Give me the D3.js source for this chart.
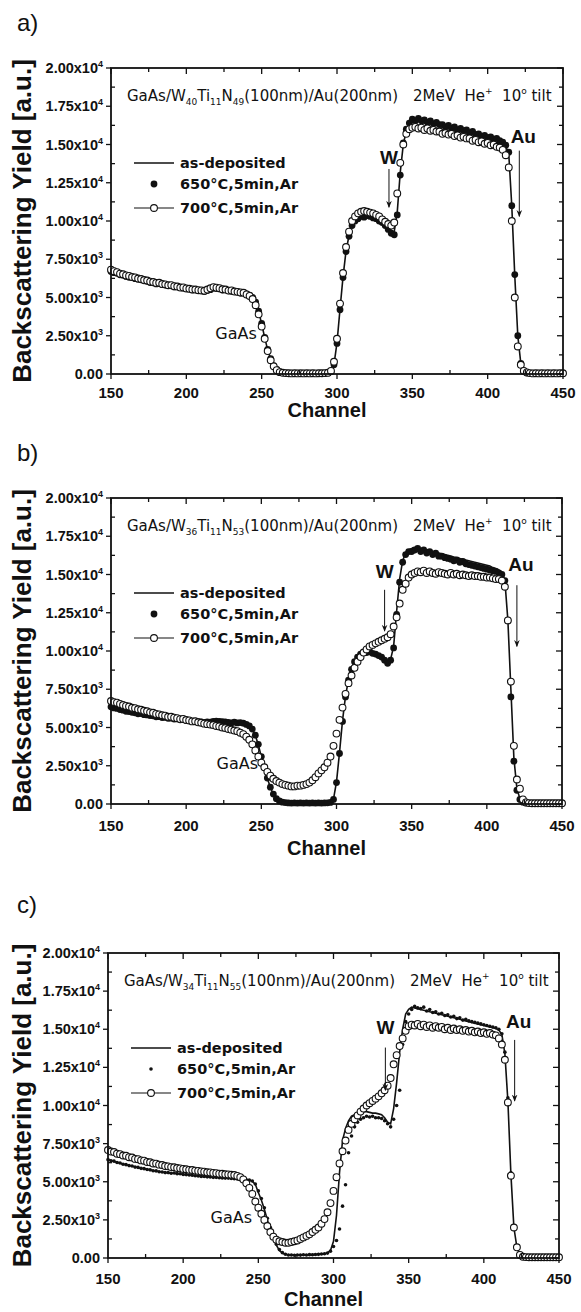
<!DOCTYPE html>
<html><head><meta charset="utf-8">
<script src="https://cdn.jsdelivr.net/npm/d3@7/dist/d3.min.js"></script>
<style>body{margin:0;background:#fff;} svg{display:block} .pre{white-space:pre}</style>
</head><body>
<script>
// ---------- DATA ----------
const channels = d3.range(150, 451, 2); // x grid: channel 150..450 every 2
const xTicks = [150, 200, 250, 300, 350, 400, 450];
const xMinor = [175, 225, 275, 325, 375, 425];
const yTicks = [0, 2500, 5000, 7500, 10000, 12500, 15000, 17500, 20000];
const yMinor = [1250, 3750, 6250, 8750, 11250, 13750, 16250, 18750];
const yTickMant = ["0.00", "2.50x10", "5.00x10", "7.50x10", "1.00x10", "1.25x10", "1.50x10", "1.75x10", "2.00x10"];
const yTickExp = ["", "3", "3", "3", "4", "4", "4", "4", "4"];
const seriesNames = ["as-deposited", "650°C,5min,Ar", "700°C,5min,Ar"];
const panelLabels = ["a)", "b)", "c)"];
const compW = ["40", "36", "34"];
const compTi = ["11", "11", "11"];
const compN = ["49", "53", "55"];

// panel a
const aAsDep = [
6650,6600,6550,6480,6430,6380,6300,6280,6220,6180,
6130,6080,6030,5990,5940,5900,5880,5830,5800,5780,
5740,5700,5680,5640,5600,5580,5540,5500,5480,5450,
5430,5400,5430,5480,5560,5580,5540,5500,5480,5440,
5400,5380,5340,5300,5280,5230,5130,4980,4680,4080,
3280,2380,1580,980,540,290,150,100,80,60,
50,50,50,50,50,50,50,50,50,50,
50,60,70,150,620,2050,4250,6350,8050,9050,
9700,10000,10200,10300,10300,10300,10250,10200,10100,10000,
9900,9700,9500,9250,9300,10600,13200,15000,15900,16300,
16450,16500,16500,16450,16400,16400,16350,16300,16250,16200,
16150,16100,16050,16000,15950,15900,15850,15800,15750,15700,
15650,15600,15550,15500,15450,15400,15350,15300,15250,15200,
15050,14850,14400,11000,6400,2500,700,200,80,60,
50,50,50,50,50,50,50,50,50,50,
50];
const a650 = [
6700,6620,6580,6480,6460,6380,6320,6300,6230,6200,
6160,6090,6060,5980,5960,5890,5910,5840,5810,5790,
5760,5690,5710,5640,5610,5590,5560,5490,5510,5440,
5460,5390,5460,5510,5620,5590,5560,5490,5510,5440,
5410,5390,5360,5290,5310,5240,5150,5000,4700,4100,
3300,2400,1600,1000,550,300,150,100,80,60,
50,60,50,40,50,60,50,50,40,50,
50,60,70,150,600,2000,4200,6300,8000,9000,
9700,10000,10150,10300,10250,10350,10300,10200,10150,10000,
9900,9700,9450,9200,9100,10400,13000,15100,16000,16400,
16650,16550,16700,16550,16600,16450,16550,16350,16450,16300,
16300,16150,16250,16050,16150,15950,16050,15900,15950,15750,
15850,15650,15700,15550,15600,15450,15500,15350,15400,15250,
15150,14950,14500,11000,6500,2500,700,200,80,60,
50,50,50,50,50,50,50,50,50,50,
50];
const a700 = [
6820,6720,6660,6560,6520,6440,6410,6340,6310,6240,
6210,6140,6110,6040,6010,5950,5960,5880,5860,5800,
5810,5740,5720,5650,5660,5590,5570,5530,5520,5480,
5460,5440,5520,5600,5680,5640,5610,5540,5520,5450,
5460,5390,5370,5330,5310,5200,5100,4900,4500,3900,
3100,2300,1500,900,500,250,120,80,60,50,
40,50,40,50,40,50,40,50,40,50,
50,60,80,200,800,2300,4600,6600,8300,9300,
10000,10300,10500,10600,10650,10600,10550,10500,10400,10300,
10100,9950,9800,9700,9900,11800,13800,15000,15700,16000,
16100,16150,16050,16100,15950,16050,15900,15950,15850,15850,
15700,15750,15650,15700,15550,15600,15450,15500,15400,15400,
15250,15300,15150,15200,15050,15100,14950,15000,14850,14800,
14650,14300,13500,10000,5000,1800,600,200,100,60,
40,50,40,50,40,50,40,50,40,50,
50];

// panel b
const bAsDep = [
6300,6250,6200,6150,6100,6050,6000,5980,5940,5900,
5880,5840,5800,5770,5740,5700,5680,5650,5630,5600,
5580,5550,5530,5500,5480,5450,5430,5400,5390,5370,
5350,5340,5350,5360,5380,5400,5390,5370,5350,5330,
5310,5320,5300,5290,5260,5190,5080,4880,4480,3880,
3080,2380,1680,1080,640,340,190,120,90,70,
60,60,60,60,60,60,60,60,60,60,
60,70,80,110,320,1450,3350,5450,7050,8150,
8850,9350,9650,9850,9950,9950,9950,9850,9800,9700,
9600,9400,9250,9450,10300,12600,14700,15900,16400,16600,
16700,16750,16700,16650,16650,16600,16550,16500,16450,16400,
16350,16300,16250,16200,16150,16100,16050,16000,15950,15900,
15850,15800,15750,15700,15650,15600,15550,15450,15400,15300,
15150,14600,12000,7500,3000,1000,350,130,80,60,
50,50,50,50,50,50,50,50,50,50,
50];
const b650 = [
6350,6280,6250,6170,6130,6060,6040,5990,5960,5900,
5910,5840,5820,5780,5760,5700,5710,5650,5660,5600,
5610,5550,5560,5500,5510,5450,5460,5400,5410,5380,
5360,5330,5370,5350,5400,5420,5400,5380,5360,5340,
5300,5350,5300,5320,5280,5200,5100,4900,4500,3900,
3100,2400,1700,1100,650,350,200,120,90,70,
60,70,60,70,60,70,60,70,60,70,
60,70,80,100,300,1400,3300,5400,7000,8100,
8800,9300,9600,9800,9900,9900,9950,9850,9800,9700,
9600,9400,9200,9400,10200,12400,14500,15800,16300,16500,
16500,16600,16700,16500,16600,16400,16500,16300,16400,16200,
16200,16100,16050,16000,15900,15950,15800,15850,15700,15650,
15600,15550,15500,15450,15400,15350,15300,15250,15200,15100,
15000,14600,12000,7000,2800,900,300,120,80,60,
50,50,50,50,50,50,50,50,50,50,
50];
const b700 = [
6730,6660,6620,6540,6470,6410,6370,6290,6260,6190,
6160,6090,6060,5990,5960,5890,5860,5800,5770,5700,
5700,5640,5610,5550,5560,5490,5460,5400,5410,5340,
5310,5250,5220,5190,5160,5100,5070,5000,4960,4900,
4860,4800,4760,4660,4570,4400,4200,3900,3500,3100,
2700,2400,2100,1850,1650,1500,1400,1300,1250,1200,
1150,1150,1200,1200,1250,1300,1400,1550,1750,2000,
2200,2400,2700,3100,3800,4600,5500,6300,7200,7900,
8400,8900,9300,9600,9900,10100,10300,10400,10500,10600,
10700,10800,10900,11100,11600,12200,13100,14000,14400,14800,
15000,15100,15200,15150,15250,15100,15200,15100,15050,15150,
15100,15050,15000,15100,15000,15050,14950,15000,14950,14900,
14950,14900,14900,14850,14850,14800,14800,14750,14700,14700,
14600,14200,12000,8000,3800,1600,1000,300,100,60,
50,50,50,50,50,50,50,50,50,50,
50];

// panel c
const cAsDep = [
6450,6390,6350,6270,6230,6160,6120,6070,6030,5970,
5940,5890,5860,5810,5780,5730,5710,5670,5640,5600,
5590,5560,5560,5530,5510,5480,5470,5440,5420,5390,
5380,5350,5340,5320,5310,5290,5280,5260,5250,5240,
5230,5220,5200,5180,5170,5150,5120,5100,5030,4830,
4300,3800,3200,2500,1900,1300,850,500,330,240,
200,200,200,200,200,200,200,210,220,230,
240,260,280,330,500,1100,2800,5600,7700,8500,
9000,9300,9400,9500,9550,9600,9600,9550,9500,9500,
9450,9400,9200,8900,8800,9800,11500,13500,15000,16000,
16300,16450,16400,16350,16300,16250,16200,16150,16100,16050,
16000,15950,15900,15850,15800,15750,15700,15650,15600,15550,
15500,15450,15400,15350,15300,15250,15200,15150,15100,15050,
14950,14650,13400,10300,5500,2000,700,200,80,60,
50,50,50,50,50,50,50,50,50,50,
50];
const c650 = [
6450,6380,6350,6260,6230,6150,6120,6060,6030,5960,
5940,5880,5860,5800,5780,5720,5710,5660,5640,5600,
5600,5560,5570,5530,5520,5480,5470,5440,5430,5390,
5380,5350,5340,5320,5310,5290,5290,5260,5250,5240,
5240,5220,5200,5180,5170,5150,5120,5110,5050,4850,
4400,3900,3300,2600,2000,1400,900,550,350,250,
200,200,180,200,190,210,200,220,210,230,
240,260,280,320,450,750,1150,1900,3400,4800,
6900,8000,8600,8900,9100,9200,9300,9250,9300,9200,
9200,9150,9000,8800,8600,9100,10000,11000,14000,15500,
16000,16300,16500,16400,16350,16450,16200,16300,16100,16150,
16000,16050,15900,15950,15800,15850,15700,15750,15600,15650,
15550,15500,15450,15400,15350,15300,15250,15200,15150,15100,
15000,14700,13500,10500,5600,2100,700,200,80,60,
50,50,50,50,50,50,50,50,50,50,
50];
const c700 = [
7080,6980,6950,6840,6810,6720,6700,6610,6590,6500,
6480,6400,6380,6300,6280,6200,6190,6120,6100,6030,
6010,5960,5950,5900,5880,5840,5820,5780,5770,5730,
5710,5680,5660,5620,5610,5580,5560,5530,5520,5490,
5480,5460,5440,5380,5300,5150,4900,4600,4200,3700,
3300,2900,2500,2100,1700,1400,1200,1100,1050,1000,
1000,1050,1100,1150,1250,1350,1450,1550,1700,1850,
2000,2250,2550,3000,3600,4400,5300,6200,7000,7700,
8400,8800,9100,9350,9600,9800,10000,10150,10300,10450,
10600,10800,11000,11300,11800,12700,13300,13900,14400,14900,
15200,15300,15250,15350,15200,15300,15150,15250,15100,15200,
15100,15150,15000,15100,14950,15050,14950,15000,14900,14950,
14850,14900,14800,14850,14750,14800,14700,14750,14650,14600,
14400,14000,13000,10200,5400,2000,700,200,80,60,
50,50,50,50,50,50,50,50,50,50,
50];

// ---------- LAYOUT ----------
const panels = [
  {lineS: aAsDep, fS: a650, oS: a700, left: 111, right: 563, top: 68, bottom: 374,
   labelY: 31, tickDy: 24, chanDy: 43, dotR: 3.4,
   wCh: 334.5, wTop: 13400, wBot: 10900, wLab: 13700,
   auCh: 421, auTop: 14600, auBot: 10300, auLab: 15100, gaasCh: 233, gaasV: 2300},
  {lineS: bAsDep, fS: b650, oS: b700, left: 111, right: 562, top: 498, bottom: 804,
   labelY: 461, tickDy: 27, chanDy: 51, dotR: 3.4,
   wCh: 332, wTop: 14000, wBot: 11300, wLab: 14800,
   auCh: 420, auTop: 14300, auBot: 10300, auLab: 15200, gaasCh: 234, gaasV: 2300},
  {lineS: cAsDep, fS: c650, oS: c700, left: 108, right: 559, top: 953, bottom: 1258,
   labelY: 913, tickDy: 26, chanDy: 48, dotR: 1.8,
   wCh: 334.5, wTop: 13800, wBot: 11000, wLab: 14700,
   auCh: 420.5, auTop: 14300, auBot: 10300, auLab: 15100, gaasCh: 232, gaasV: 2300}
];

const W = 581, H = 1312;
const svg = d3.select("body").append("svg").attr("width", W).attr("height", H)
  .style("background", "#fff");
const defs = svg.append("defs");
defs.append("marker").attr("id", "ah").attr("viewBox", "0 0 10 10")
  .attr("refX", 9).attr("refY", 5).attr("markerWidth", 7).attr("markerHeight", 7)
  .attr("orient", "auto").attr("markerUnits", "userSpaceOnUse")
  .append("path").attr("d", "M0,1 L10,5 L0,9 L3,5 Z").attr("fill", "#111");

const SANS = "'Liberation Sans', Arial, sans-serif";
const VERD = "'DejaVu Sans', Verdana, sans-serif";

panels.forEach((p, pi) => {
  const x = d3.scaleLinear().domain([150, 450]).range([p.left, p.right]);
  const y = d3.scaleLinear().domain([0, 20000]).range([p.bottom, p.top]);
  const g = svg.append("g");

  // panel label
  g.append("text").attr("x", 17).attr("y", p.labelY).text(panelLabels[pi])
    .attr("font-family", SANS).attr("font-size", 24).attr("fill", "#111");

  // series
  const pts = channels.map((c, i) => ({c, l: p.lineS[i], f: p.fS[i], o: p.oS[i]}));
  g.append("g").selectAll("circle").data(pts).join("circle")
    .attr("cx", d => x(d.c)).attr("cy", d => y(d.f)).attr("r", p.dotR).attr("fill", "#111");
  g.append("path").datum(pts)
    .attr("d", d3.line().x(d => x(d.c)).y(d => y(d.l)))
    .attr("fill", "none").attr("stroke", "#111").attr("stroke-width", 1.6);
  g.append("g").selectAll("circle").data(pts).join("circle")
    .attr("cx", d => x(d.c)).attr("cy", d => y(d.o)).attr("r", 3.4)
    .attr("fill", "#fff").attr("stroke", "#111").attr("stroke-width", 1.1);

  // frame
  g.append("rect").attr("x", p.left).attr("y", p.top)
    .attr("width", p.right - p.left).attr("height", p.bottom - p.top)
    .attr("fill", "none").attr("stroke", "#111").attr("stroke-width", 1.8);

  const tk = (x1, y1, x2, y2, w) => g.append("line").attr("x1", x1).attr("y1", y1)
    .attr("x2", x2).attr("y2", y2).attr("stroke", "#111").attr("stroke-width", w || 1.3);
  xTicks.forEach(v => { tk(x(v), p.bottom, x(v), p.bottom + 5); tk(x(v), p.top, x(v), p.top + 6); });
  xMinor.forEach(v => { tk(x(v), p.bottom, x(v), p.bottom - 4); tk(x(v), p.top, x(v), p.top + 4); });
  yTicks.forEach(v => { tk(p.left - 5, y(v), p.left, y(v)); tk(p.right, y(v), p.right - 6, y(v)); });
  yMinor.forEach(v => { tk(p.left, y(v), p.left + 4, y(v)); tk(p.right, y(v), p.right - 4, y(v)); });

  // x tick labels
  g.append("g").selectAll("text").data(xTicks).join("text")
    .attr("x", d => x(d)).attr("y", p.bottom + p.tickDy).attr("text-anchor", "middle")
    .attr("font-family", SANS).attr("font-weight", "bold").attr("font-size", 15)
    .attr("fill", "#111").text(d => d);
  // y tick labels
  yTicks.forEach((v, i) => {
    const t = g.append("text").attr("x", p.left - 8).attr("y", y(v) + 5)
      .attr("text-anchor", "end").attr("font-family", SANS).attr("font-weight", "bold")
      .attr("font-size", 14.5).attr("fill", "#111");
    t.append("tspan").text(yTickMant[i]);
    if (yTickExp[i]) t.append("tspan").attr("dy", -6).attr("font-size", 9).text(yTickExp[i]);
  });

  // axis titles
  g.append("text").attr("x", (p.left + p.right) / 2 - 10).attr("y", p.bottom + p.chanDy)
    .attr("text-anchor", "middle").attr("font-family", SANS).attr("font-weight", "bold")
    .attr("font-size", 20).attr("fill", "#111").text("Channel");
  g.append("text").attr("transform", `translate(31,${(p.top + p.bottom) / 2}) rotate(-90)`)
    .attr("text-anchor", "middle").attr("font-family", SANS).attr("font-weight", "bold")
    .attr("font-size", 26).attr("fill", "#111").text("Backscattering Yield [a.u.]");

  // sample annotation
  const ann = g.append("text").attr("x", p.left + 16).attr("y", p.top + 33)
    .attr("font-family", VERD).attr("font-size", 15).attr("fill", "#111");
  ann.append("tspan").text("GaAs/W");
  ann.append("tspan").attr("dy", 4).attr("font-size", 9).text(compW[pi]);
  ann.append("tspan").attr("dy", -4).text("Ti");
  ann.append("tspan").attr("dy", 4).attr("font-size", 9).text(compTi[pi]);
  ann.append("tspan").attr("dy", -4).text("N");
  ann.append("tspan").attr("dy", 4).attr("font-size", 9).text(compN[pi]);
  ann.append("tspan").attr("dy", -4).text("(100nm)/Au(200nm)");
  const ann2 = g.append("text").attr("class", "pre").attr("x", p.left + 302).attr("y", p.top + 33)
    .attr("font-family", VERD).attr("font-size", 15).attr("fill", "#111");
  ann2.append("tspan").text("2MeV  He");
  ann2.append("tspan").attr("dy", -7).attr("font-size", 9).text("+");
  ann2.append("tspan").attr("dy", 7).text("  10");
  ann2.append("tspan").attr("dy", -7).attr("font-size", 9).text("o");
  ann2.append("tspan").attr("dy", 7).text(" tilt");

  // legend
  const lx0 = p.left + 23, lx1 = p.left + 63, ltx = p.left + 69;
  const rows = [p.top + 95, p.top + 116, p.top + 140];
  tk(lx0, rows[0], lx1, rows[0], 1.6);
  g.append("circle").attr("cx", (lx0 + lx1) / 2).attr("cy", rows[1]).attr("r", p.dotR).attr("fill", "#111");
  tk(lx0, rows[2], lx1, rows[2], 1.2);
  g.append("circle").attr("cx", (lx0 + lx1) / 2).attr("cy", rows[2]).attr("r", 3.4)
    .attr("fill", "#fff").attr("stroke", "#111").attr("stroke-width", 1.1);
  seriesNames.forEach((s, i) => g.append("text").attr("x", ltx).attr("y", rows[i] + 5)
    .attr("font-family", VERD).attr("font-weight", "bold").attr("font-size", 14.5)
    .attr("fill", "#111").text(s));

  // W and Au markers
  g.append("text").attr("x", x(p.wCh)).attr("y", y(p.wLab)).attr("text-anchor", "middle")
    .attr("font-family", SANS).attr("font-weight", "bold").attr("font-size", 19).attr("fill", "#111").text("W");
  g.append("line").attr("x1", x(p.wCh)).attr("y1", y(p.wTop)).attr("x2", x(p.wCh)).attr("y2", y(p.wBot))
    .attr("stroke", "#111").attr("stroke-width", 1).attr("marker-end", "url(#ah)");
  g.append("text").attr("x", x(p.auCh) + 4).attr("y", y(p.auLab)).attr("text-anchor", "middle")
    .attr("font-family", SANS).attr("font-weight", "bold").attr("font-size", 19).attr("fill", "#111").text("Au");
  g.append("line").attr("x1", x(p.auCh)).attr("y1", y(p.auTop)).attr("x2", x(p.auCh)).attr("y2", y(p.auBot))
    .attr("stroke", "#111").attr("stroke-width", 1).attr("marker-end", "url(#ah)");
  // GaAs label
  g.append("text").attr("x", x(p.gaasCh)).attr("y", y(p.gaasV)).attr("text-anchor", "middle")
    .attr("font-family", VERD).attr("font-size", 16).attr("fill", "#111").text("GaAs");
});
</script>
</body></html>
